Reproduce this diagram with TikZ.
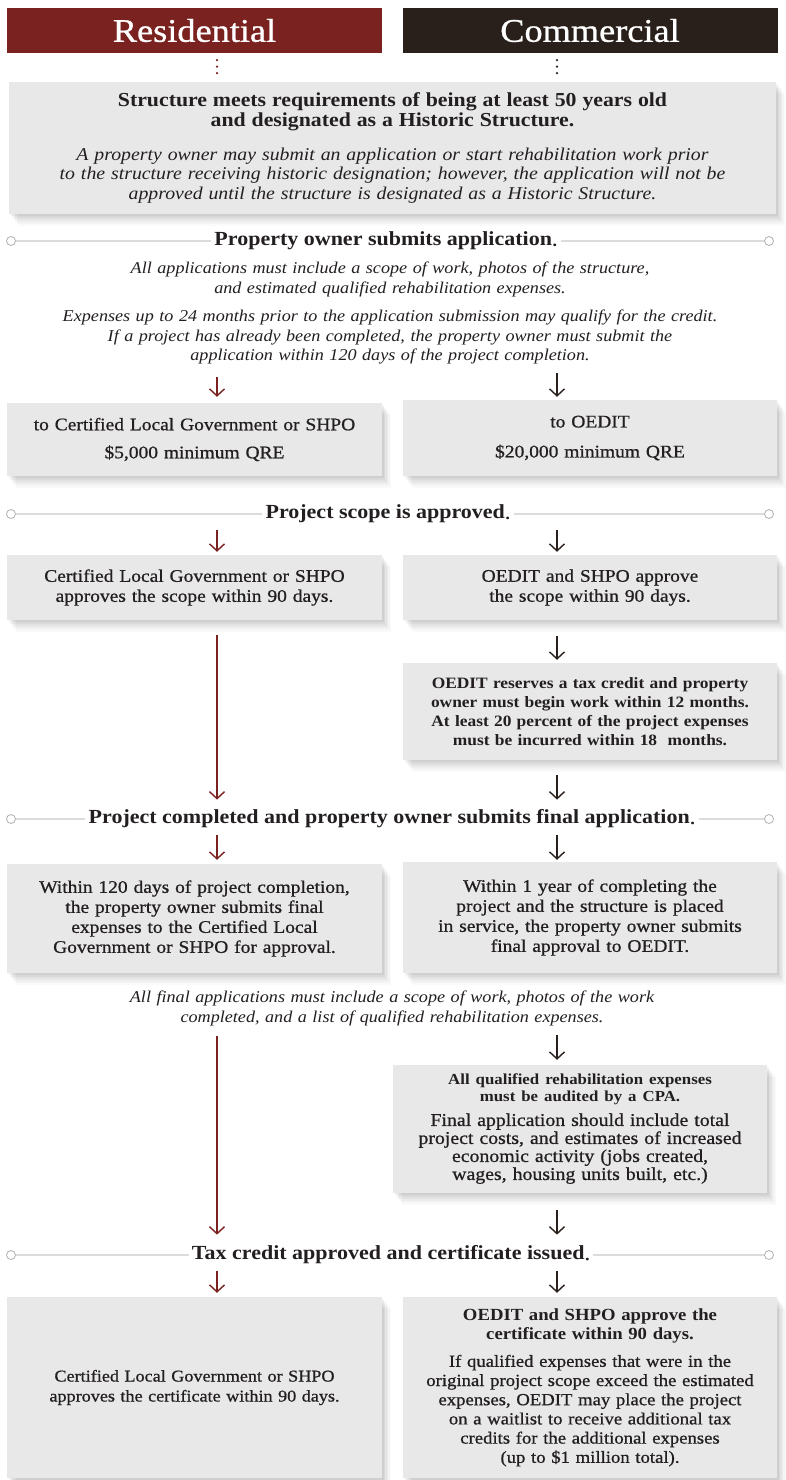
\documentclass[tikz,border=0pt]{standalone}
\usepackage{fontspec}
\setmainfont{Liberation Serif}[FakeStretch=1.1,UprightFeatures={FakeBold=0.8}]
\usetikzlibrary{arrows.meta,shadows}
\definecolor{resred}{HTML}{7A2220}
\definecolor{comdark}{HTML}{2A201B}
\definecolor{boxgray}{HTML}{E8E8E8}
\definecolor{rulegray}{HTML}{DCDCDC}
\definecolor{ink}{HTML}{231F20}

\begin{document}
\begin{tikzpicture}[x=1pt,y=-1pt,
  every node/.style={text=ink},
  header/.style={minimum width=375pt,minimum height=45pt,inner sep=0pt,text=white,font=\fontsize{33}{34}\selectfont},
  softshadow/.style={
    drop shadow={shadow xshift=1.5pt,shadow yshift=-2pt,opacity=0.04,fill=black},
    drop shadow={shadow xshift=3pt,shadow yshift=-4pt,opacity=0.04,fill=black},
    drop shadow={shadow xshift=4.5pt,shadow yshift=-6pt,opacity=0.035,fill=black},
    drop shadow={shadow xshift=6pt,shadow yshift=-8pt,opacity=0.03,fill=black},
    drop shadow={shadow xshift=7.5pt,shadow yshift=-10pt,opacity=0.025,fill=black},
    drop shadow={shadow xshift=9pt,shadow yshift=-12pt,opacity=0.02,fill=black}},
  graybox/.style={fill=boxgray,inner sep=0pt,align=center,text width=360pt,softshadow,font=\fontsize{17.7}{20}\selectfont},
  note/.style={align=center,inner sep=2pt,text width=760pt,font=\itshape\fontsize{16.5}{19.5}\selectfont},
  stephead/.style={inner sep=3pt,font=\bfseries\fontsize{20}{21}\selectfont},
  endcircle/.style={circle,draw=rulegray!80!black,line width=0.8pt,fill=white,minimum size=9pt,inner sep=0pt},
  rulestyle/.style={draw=rulegray,line width=1.2pt},
  rarr/.style={draw=resred,line width=1.4pt,-{Straight Barb[length=7pt,width=15pt]}},
  carr/.style={draw=comdark,line width=1.4pt,-{Straight Barb[length=7pt,width=15pt]}},
  dotline/.style={line width=2.5pt,line cap=round,dash pattern=on 0pt off 6.5pt}
]
\useasboundingbox (0,0) rectangle (786,1480);
\fill[white] (0,0) rectangle (786,1480);
\coordinate (colL) at (217,0);
\coordinate (colR) at (557,0);

\node[header,fill=resred] (resh) at (194.5,30.5) {Residential};
\node[header,fill=comdark] (comh) at (590,30.5) {Commercial};

\node[graybox,text width=750pt,minimum width=767pt,minimum height=132pt] (top) at (392.5,148) {{\bfseries\fontsize{19.8}{19}\selectfont Structure meets requirements of being at least 50 years old\\ and designated as a Historic Structure.}\\[14pt]
  \itshape\fontsize{18}{19.5}\selectfont A property owner may submit an application or start rehabilitation work prior\\ to the structure receiving historic designation; however, the application will not be\\ approved until the structure is designated as a Historic Structure.};
\draw[dotline,draw=resred,shorten <=7pt,shorten >=6pt] (resh.south -| colL) -- (top.north -| colL);
\draw[dotline,draw=comdark,shorten <=7pt,shorten >=6pt] (comh.south -| colR) -- (top.north -| colR);

\node[stephead] (s1) at (386,241) {Property owner submits application\textmd{.}};
\node[endcircle] (s1l) at (11,241) {};
\node[endcircle] (s1r) at (769,241) {};
\draw[rulestyle] (s1l) -- (s1.west);
\draw[rulestyle] (s1.east) -- (s1r);
\node[note] (n1) at (390,279.5) {All applications must include a scope of work, photos of the structure,\\ and estimated qualified rehabilitation expenses.};
\node[note] (n2) at (390,337) {Expenses up to 24 months prior to the application submission may qualify for the credit.\\ If a project has already been completed, the property owner must submit the\\ application within 120 days of the project completion.};

\node[graybox,minimum width=375pt,minimum height=73pt] (L2) at (194.5,439.5) {to Certified Local Government or SHPO\\[8pt] \$5,000 minimum QRE};
\node[graybox,minimum width=374pt,minimum height=76pt] (R2) at (590,438) {to OEDIT\\[10pt] \$20,000 minimum QRE};
\draw[rarr,shorten <=11pt,shorten >=6pt] (n2.south -| colL) -- (L2.north -| colL);
\draw[carr,shorten <=7pt,shorten >=3pt] (n2.south -| colR) -- (R2.north -| colR);

\node[stephead] (s2) at (388,514) {Project scope is approved\textmd{.}};
\node[endcircle] (s2l) at (11,514) {};
\node[endcircle] (s2r) at (769,514) {};
\draw[rulestyle] (s2l) -- (s2.west);
\draw[rulestyle] (s2.east) -- (s2r);

\node[graybox,minimum width=375pt,minimum height=65pt] (L3) at (194.5,587.5) {Certified Local Government or SHPO\\ approves the scope within 90 days.};
\node[graybox,minimum width=374pt,minimum height=65pt] (R3) at (590,587.5) {OEDIT and SHPO approve\\ the scope within 90 days.};
\draw[rarr,shorten <=4pt,shorten >=3pt] (s2.south -| colL) -- (L3.north -| colL);
\draw[carr,shorten <=4pt,shorten >=3pt] (s2.south -| colR) -- (R3.north -| colR);

\node[graybox,minimum width=374pt,minimum height=97pt,font=\bfseries\fontsize{15.8}{19}\selectfont] (R4) at (590,711.5) {OEDIT reserves a tax credit and property\\ owner must begin work within 12 months.\\ At least 20 percent of the project expenses\\ must be incurred within 18~ months.};
\draw[carr,shorten <=16pt,shorten >=3pt] (R3.south -| colR) -- (R4.north -| colR);

\node[stephead] (s3) at (392,819) {Project completed and property owner submits final application\textmd{.}};
\node[endcircle] (s3l) at (11,819) {};
\node[endcircle] (s3r) at (769,819) {};
\draw[rulestyle] (s3l) -- (s3.west);
\draw[rulestyle] (s3.east) -- (s3r);
\draw[rarr,shorten <=15pt,shorten >=7pt] (L3.south -| colL) -- (s3.north -| colL);
\draw[carr,shorten <=15pt,shorten >=7pt] (R4.south -| colR) -- (s3.north -| colR);

\node[graybox,minimum width=375pt,minimum height=109pt] (L5) at (194.5,918.5) {Within 120 days of project completion,\\ the property owner submits final\\ expenses to the Certified Local\\ Government or SHPO for approval.};
\node[graybox,minimum width=374pt,minimum height=111pt] (R5) at (590,917.5) {Within 1 year of completing the\\ project and the structure is placed\\ in service, the property owner submits\\ final approval to OEDIT.};
\draw[rarr,shorten <=4pt,shorten >=4pt] (s3.south -| colL) -- (L5.north -| colL);
\draw[carr,shorten <=4pt,shorten >=2pt] (s3.south -| colR) -- (R5.north -| colR);

\node[note] (n3) at (392,1008.5) {All final applications must include a scope of work, photos of the work\\ completed, and a list of qualified rehabilitation expenses.};

\node[graybox,minimum width=374pt,minimum height=128pt,font=\fontsize{18}{18}\selectfont] (R6) at (580,1129) {{\bfseries\fontsize{15.3}{17}\selectfont All qualified rehabilitation expenses\\[-1pt] must be audited by a CPA.}\\[6pt] Final application should include total\\ project costs, and estimates of increased\\ economic activity (jobs created,\\ wages, housing units built, etc.)};
\draw[carr,shorten <=7pt,shorten >=5pt] (n3.south -| colR) -- (R6.north -| colR);

\node[stephead] (s4) at (391,1255) {Tax credit approved and certificate issued\textmd{.}};
\node[endcircle] (s4l) at (11,1255) {};
\node[endcircle] (s4r) at (769,1255) {};
\draw[rulestyle] (s4l) -- (s4.west);
\draw[rulestyle] (s4.east) -- (s4r);
\draw[rarr,shorten <=8pt,shorten >=8pt] (n3.south -| colL) -- (s4.north -| colL);
\draw[carr,shorten <=17pt,shorten >=8pt] (R6.south -| colR) -- (s4.north -| colR);

\node[graybox,minimum width=375pt,minimum height=181pt,font=\fontsize{16.5}{20}\selectfont] (L7) at (194.5,1387.5) {Certified Local Government or SHPO\\ approves the certificate within 90 days.};
\node[graybox,minimum width=374pt,minimum height=181pt,font=\fontsize{17}{19.2}\selectfont] (R7) at (590,1387.5) {{\bfseries OEDIT and SHPO approve the\\ certificate within 90 days.}\\[8pt] If qualified expenses that were in the\\ original project scope exceed the estimated\\ expenses, OEDIT may place the project\\ on a waitlist to receive additional tax\\ credits for the additional expenses\\ (up to \$1 million total).};
\draw[rarr,shorten <=4pt,shorten >=4pt] (s4.south -| colL) -- (L7.north -| colL);
\draw[carr,shorten <=4pt,shorten >=4pt] (s4.south -| colR) -- (R7.north -| colR);
\end{tikzpicture}
\end{document}
